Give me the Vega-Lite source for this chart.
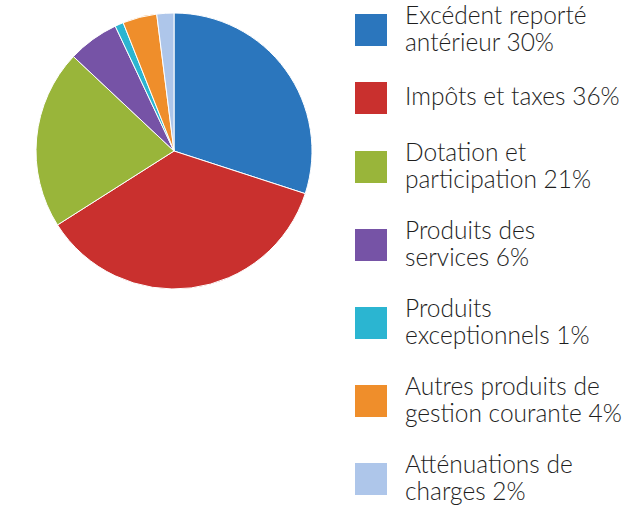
{
  "$schema": "https://vega.github.io/schema/vega-lite/v6.json",
  "width": 348,
  "height": 302,
  "padding": 0,
  "background": "white",
  "data": {
    "values": [
      {"label": "Excédent reporté|antérieur 30%", "value": 30, "order": 1},
      {"label": "Impôts et taxes 36%", "value": 36, "order": 2},
      {"label": "Dotation et|participation 21%", "value": 21, "order": 3},
      {"label": "Produits des|services 6%", "value": 6, "order": 4},
      {"label": "Produits|exceptionnels 1%", "value": 1, "order": 5},
      {"label": "Autres produits de|gestion courante 4%", "value": 4, "order": 6},
      {"label": "Atténuations de|charges 2%", "value": 2, "order": 7}
    ]
  },
  "mark": {"type": "arc", "radius": 138, "stroke": "white", "strokeWidth": 1},
  "encoding": {
    "theta": {"field": "value", "type": "quantitative", "stack": true},
    "order": {"field": "order", "type": "quantitative"},
    "color": {
      "field": "label",
      "type": "nominal",
      "sort": {"field": "order"},
      "scale": {
        "domain": ["Excédent reporté|antérieur 30%", "Impôts et taxes 36%", "Dotation et|participation 21%", "Produits des|services 6%", "Produits|exceptionnels 1%", "Autres produits de|gestion courante 4%", "Atténuations de|charges 2%"],
        "range": ["#2b76bd", "#c9302e", "#99b53a", "#7653a6", "#2bb5d1", "#ef8e2b", "#aec6ea"]
      },
      "legend": {
        "title": null,
        "orient": "right",
        "offset": -7,
        "symbolType": "square",
        "symbolSize": 1024,
        "symbolStrokeWidth": 0,
        "symbolOpacity": 1,
        "labelExpr": "split(datum.label, '|')",
        "labelFont": "Lato",
        "labelFontSize": 24.5,
        "labelFontWeight": 300,
        "labelLineHeight": 26,
        "labelColor": "#1e1e1e",
        "labelLimit": 400,
        "labelOffset": 18,
        "rowPadding": 27,
        "padding": 14,
        "encoding": {
          "labels": {
            "dy": {"value": {"expr": "indexof(datum.value, '|') >= 0 ? -13 : 0"}}
          }
        }
      }
    }
  },
  "config": {"view": {"stroke": null}}
}
